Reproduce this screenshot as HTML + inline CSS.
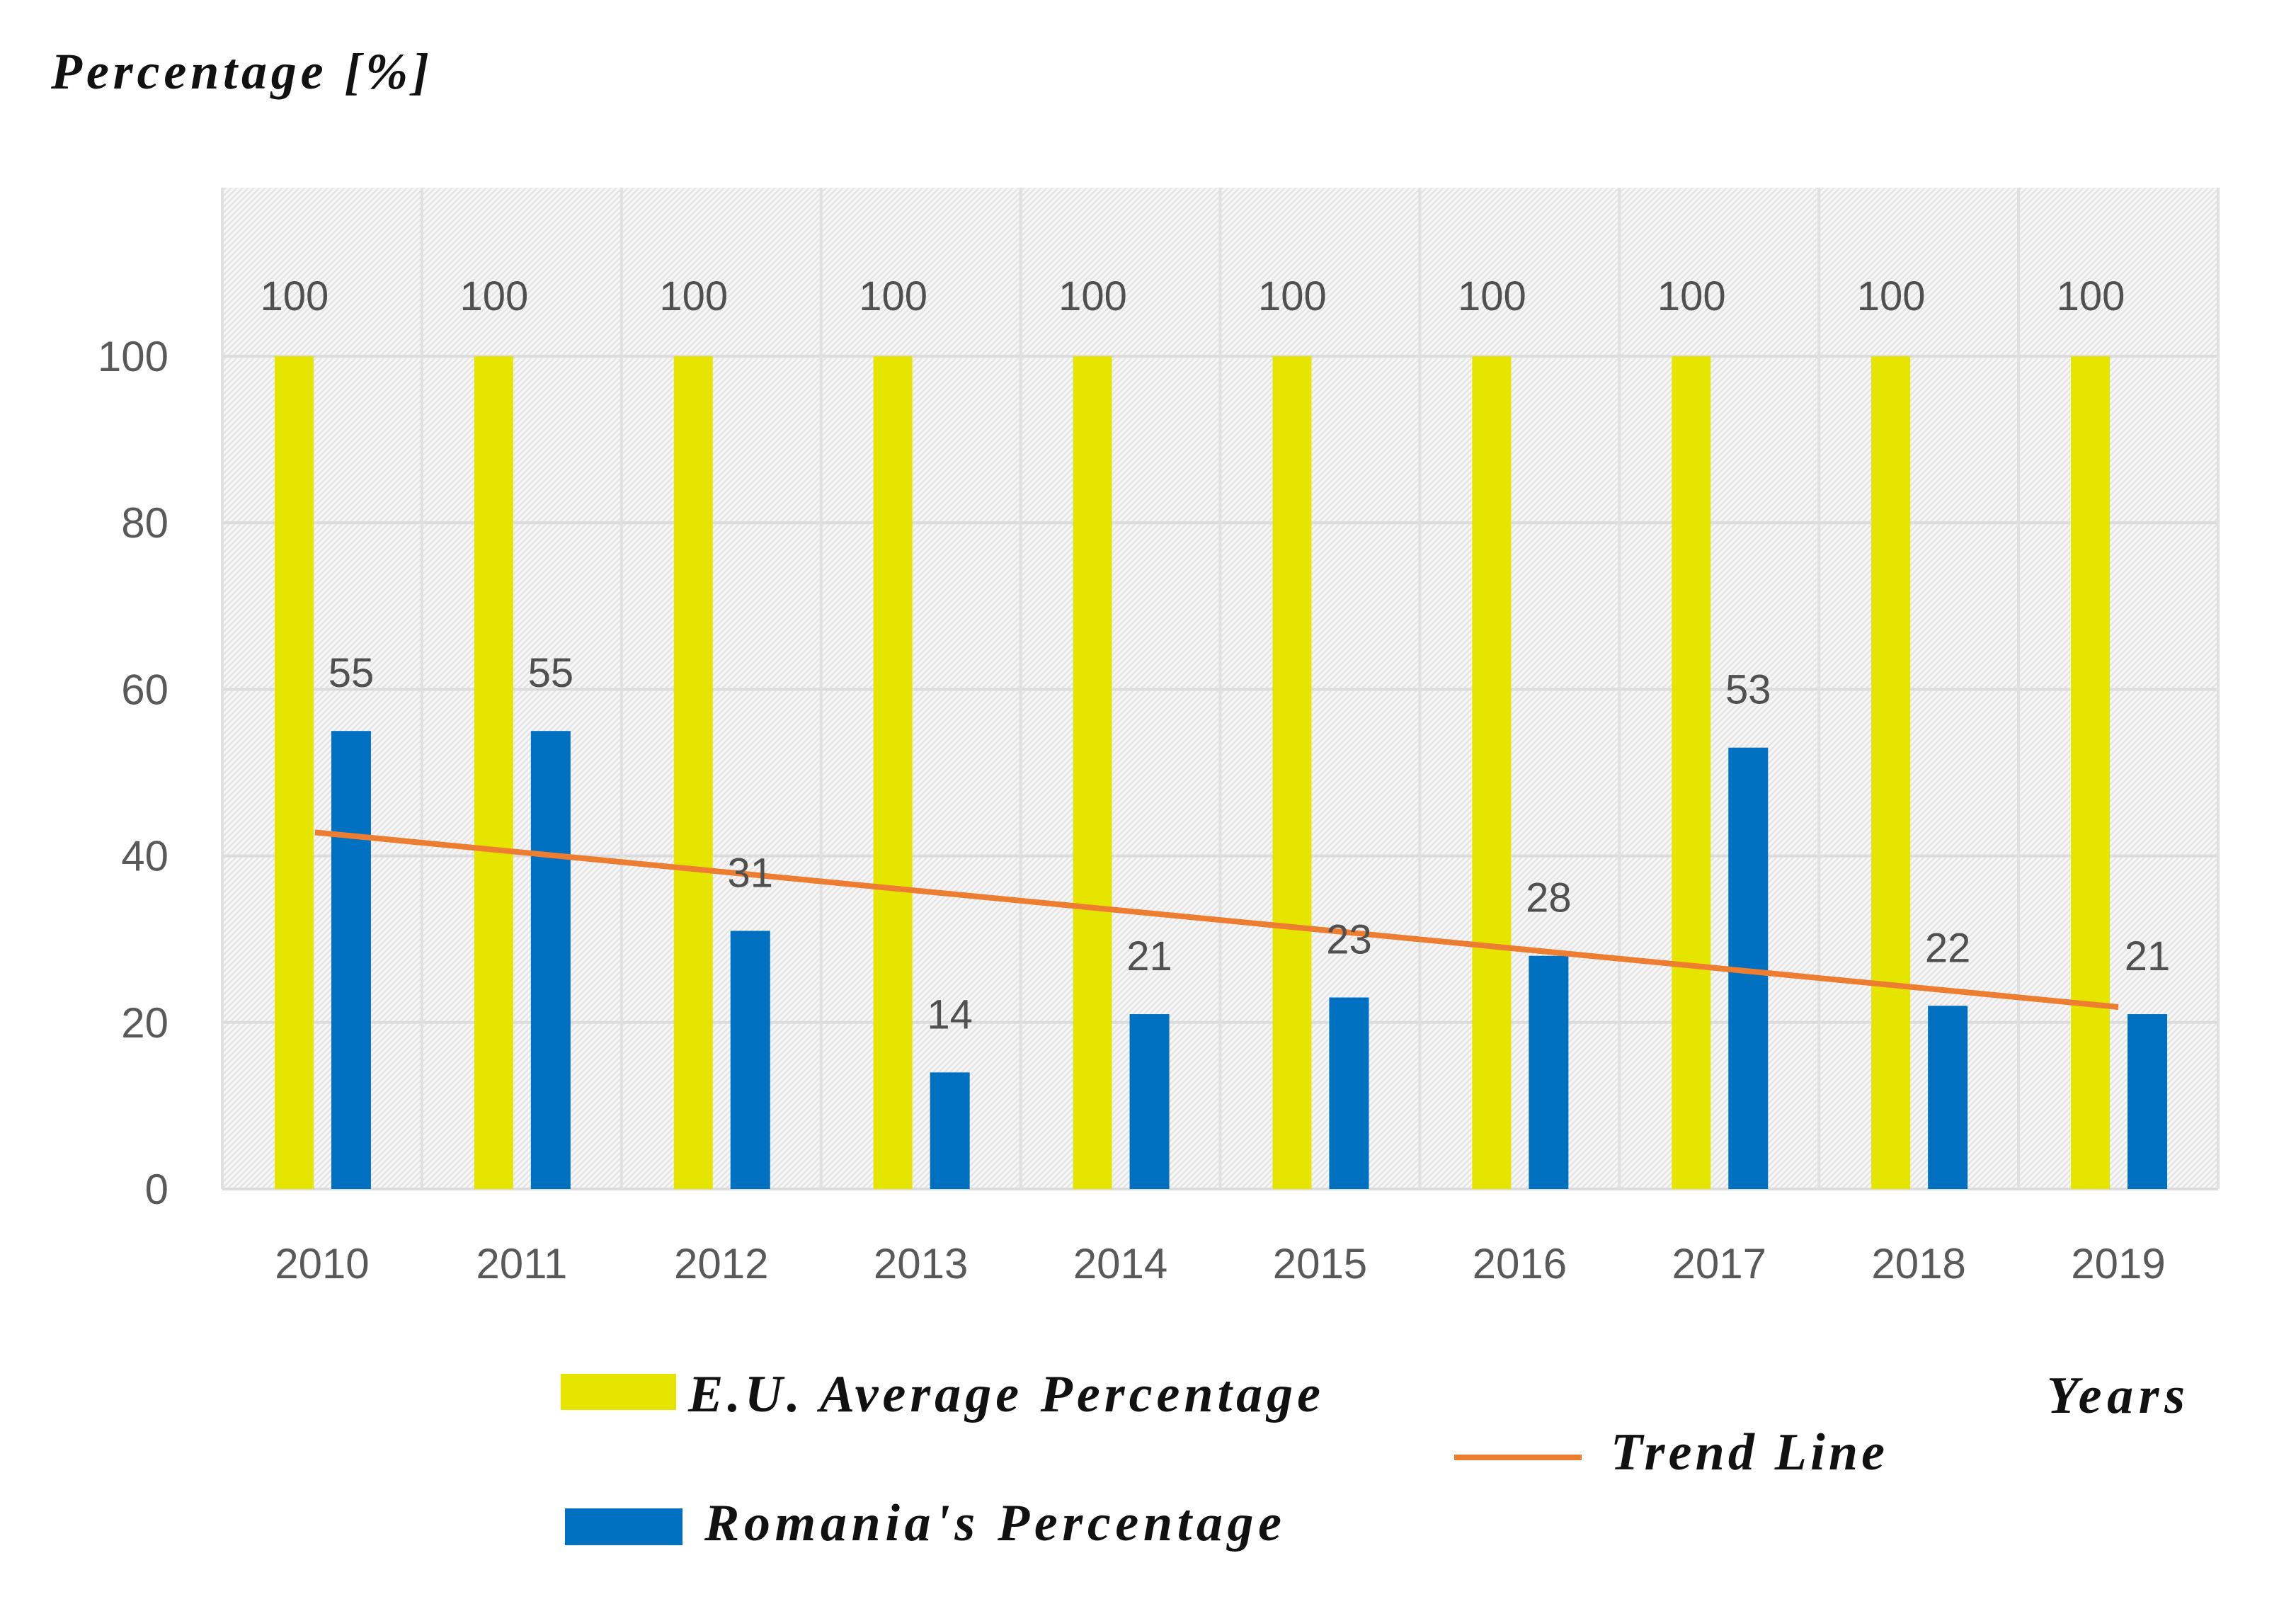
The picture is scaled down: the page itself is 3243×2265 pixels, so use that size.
<!DOCTYPE html>
<html><head><meta charset="utf-8"><style>
html,body{margin:0;padding:0;background:#fff;}
svg{display:block;}
.tick{font-family:"Liberation Sans",sans-serif;font-size:60px;fill:#595959;}
.val{font-family:"Liberation Sans",sans-serif;font-size:58px;fill:#505050;}
.ser{font-family:"Liberation Serif",serif;font-style:italic;font-weight:bold;fill:#111;}
</style></head><body>
<svg id="chart" width="3243" height="2265" viewBox="0 0 3243 2265" xmlns="http://www.w3.org/2000/svg">
<defs>
<pattern id="hatch" width="8" height="8" patternUnits="userSpaceOnUse">
<rect width="8" height="8" fill="#f6f6f6"/>
<path d="M0 8L8 0M-2 2L2 -2M6 10L10 6" stroke="#e2e2e2" stroke-width="2"/>
</pattern>
</defs>
<rect x="314" y="265" width="2819" height="1414" fill="url(#hatch)"/>
<g id="grid"></g>
<g id="bars"></g>
<g id="labels"></g>
<text class="ser" x="72" y="125" font-size="72" textLength="534">Percentage [%]</text>
<rect x="792" y="1940" width="163" height="51" fill="#e5e500"/>
<text class="ser" x="972" y="1993" font-size="74" textLength="893">E.U. Average Percentage</text>
<rect x="798" y="2130" width="166" height="52" fill="#0070c0"/>
<text class="ser" x="995" y="2175" font-size="74" textLength="815">Romania's Percentage</text>
<line x1="2054" y1="2058" x2="2234" y2="2058" stroke="#ed7d31" stroke-width="8"/>
<text class="ser" x="2275" y="2075" font-size="74" textLength="387">Trend Line</text>
<text class="ser" x="2891" y="1995" font-size="74" textLength="195">Years</text>
</svg>
<script>
const years = ['2010','2011','2012','2013','2014','2015','2016','2017','2018','2019'];
const euValues = [100,100,100,100,100,100,100,100,100,100];
const roValues = [55,55,31,14,21,23,28,53,22,21];
const yTicks = [0,20,40,60,80,100];

const NS='http://www.w3.org/2000/svg';
const L=314,R=3133,T=265,B=1679,Y0=1679,PER=(1679-503)/100;
const band=(R-L)/years.length;
const xC=i=>L+band*(i+0.5);
const yS=v=>Y0-v*PER;
function mk(tag,attrs,parent,text){const e=document.createElementNS(NS,tag);for(const k in attrs)e.setAttribute(k,attrs[k]);if(text!==undefined)e.textContent=text;parent.appendChild(e);return e;}
const grid=document.getElementById('grid'),bars=document.getElementById('bars'),labels=document.getElementById('labels');
yTicks.forEach(t=>{
  const g=mk('line',{x1:L,x2:R,y1:yS(t),y2:yS(t),stroke:'#dcdcdc','stroke-width':4},grid);
  
  
  const tl=mk('text',{x:238,y:yS(t)+21,'text-anchor':'end',class:'tick'},labels,String(t));
  
  
});
for(let i=0;i<=years.length;i++){
  const g=mk('line',{x1:L+band*i,x2:L+band*i,y1:T,y2:B,stroke:'#e0e0e0','stroke-width':4},grid);
  
  
}
years.forEach((yr,i)=>{
  const c=xC(i);
  const ey=yS(euValues[i]);
  const eb=mk('rect',{x:c-67,y:ey,width:55,height:Y0-ey,fill:'#e5e500'},bars);
  
  
  const ry=yS(roValues[i]);
  const rb=mk('rect',{x:c+13,y:ry,width:56,height:Y0-ry,fill:'#0070c0'},bars);
  
  
  const el=mk('text',{x:c-39,y:438,'text-anchor':'middle',class:'val',fill:'#404040'},labels,String(euValues[i]));
  
  
  const rl=mk('text',{x:c+41,y:ry-62,'text-anchor':'middle',class:'val'},labels,String(roValues[i]));
  
  
  const xl=mk('text',{x:c,y:1805,'text-anchor':'middle',class:'tick'},labels,yr);
  
  
});
const n=roValues.length;let mx=(n-1)/2,my=roValues.reduce((a,b)=>a+b,0)/n,sxy=0,sxx=0;
roValues.forEach((v,i)=>{sxy+=(i-mx)*(v-my);sxx+=(i-mx)*(i-mx);});
const slope=sxy/sxx,icpt=my-slope*mx;
const tr=mk('line',{x1:xC(0)-10,y1:yS(icpt+slope*(-10/band)),x2:xC(n-1),y2:yS(icpt+slope*(n-1)),stroke:'#ed7d31','stroke-width':8},bars);


</script>
</body></html>
